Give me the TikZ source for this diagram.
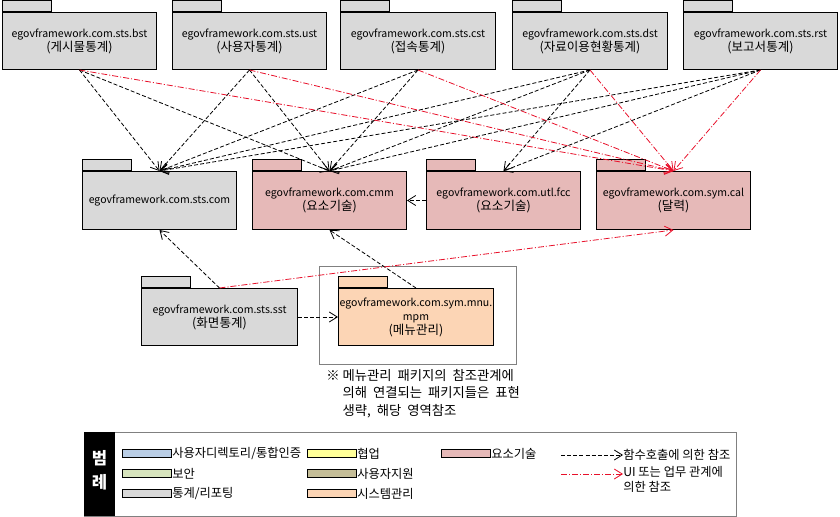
\documentclass[tikz,border=0pt]{standalone}
\usepackage{fontspec}
\setmainfont{Noto Sans CJK KR}
\usetikzlibrary{arrows.meta}
\definecolor{pkggray}{HTML}{D9D9D9}
\definecolor{pkgpink}{HTML}{E6B9B8}
\definecolor{pkgpeach}{HTML}{FCD5B5}
\definecolor{pkgblue}{HTML}{B9CDE5}
\definecolor{pkggreen}{HTML}{D7E4BD}
\definecolor{pkgyellow}{HTML}{FFFF99}
\definecolor{pkgtan}{HTML}{C4BD97}
\definecolor{uired}{HTML}{E8102A}
\definecolor{framegray}{HTML}{808080}
\newcommand{\kor}[1]{{\fontsize{9.4}{10.5}\selectfont #1}}
\tikzset{
  pkgbody/.style={draw=black, line width=0.75pt, inner sep=0pt, align=center,
    font=\fontsize{7.9}{10.5}\selectfont, anchor=north west},
  pkgtab/.style={draw=black, line width=0.75pt, inner sep=0pt, anchor=south west,
    minimum width=49*0.75pt, minimum height=11*0.75pt},
  dep/.style={draw=black, line width=0.6pt, dash pattern=on 3pt off 1.6pt,
    -{Straight Barb[length=6pt,width=7.5pt]}},
  uidep/.style={draw=uired, line width=0.6pt,
    dash pattern=on 4.5pt off 1.5pt on 0.8pt off 1.5pt,
    -{Straight Barb[length=6pt,width=7.5pt]}},
  swatch/.style={draw=black, line width=0.75pt, inner sep=0pt, anchor=north west,
    minimum width=49*0.75pt, minimum height=8*0.75pt},
  legtext/.style={anchor=west, inner sep=0pt, font=\fontsize{9.2}{11.2}\selectfont},
}
\newcommand{\pkgnode}[7]{%
  \node[pkgtab, fill=#6] (#1-tab) at (#2,#3) {};
  \node[pkgbody, fill=#6, minimum width=#4*0.75pt, minimum height=#5*0.75pt] (#1) at (#2,#3) {#7};}
\begin{document}
\begin{tikzpicture}[x=0.75pt,y=-0.75pt]
\useasboundingbox (0,0) rectangle (840,517);
\fill[white] (0,0) rectangle (840,517);
% top row
\pkgnode{bst}{2}{12}{154}{57}{pkggray}{egovframework.com.sts.bst\\\kor{(게시물통계)}}
\pkgnode{ust}{172}{12}{154}{57}{pkggray}{egovframework.com.sts.ust\\\kor{(사용자통계)}}
\pkgnode{cst}{340}{12}{155}{57}{pkggray}{egovframework.com.sts.cst\\\kor{(접속통계)}}
\pkgnode{dst}{512}{12}{155}{57}{pkggray}{egovframework.com.sts.dst\\\kor{(자료이용현황통계)}}
\pkgnode{rst}{683}{12}{154}{57}{pkggray}{egovframework.com.sts.rst\\\kor{(보고서통계)}}
% middle row
\pkgnode{stscom}{82}{171}{154}{58}{pkggray}{egovframework.com.sts.com}
\pkgnode{cmm}{252}{171}{154}{58}{pkgpink}{egovframework.com.cmm\\\kor{(요소기술)}}
\pkgnode{utl}{426}{171}{154}{58}{pkgpink}{egovframework.com.utl.fcc\\\kor{(요소기술)}}
\pkgnode{cal}{596}{171}{154}{58}{pkgpink}{egovframework.com.sym.cal\\\kor{(달력)}}
% bottom row
\draw[framegray, line width=0.75pt] (319,266) rectangle (516,364);
\pkgnode{sst}{141}{288}{156}{57}{pkggray}{egovframework.com.sts.sst\\\kor{(화면통계)}}
\pkgnode{mpm}{338}{288}{155}{57}{pkgpeach}{egovframework.com.sym.mnu.\\mpm\\\kor{(메뉴관리)}}
\node[anchor=north west, align=left, inner sep=0pt, font=\fontsize{10}{13.2}\selectfont] (note) at (326,369)
  {※\ 메뉴관리\ \ 패키지의\ \ 참조관계에\\\hphantom{※\ }의해\ \ 연결되는\ \ 패키지들은\ \ 표현\\\hphantom{※\ }생략,\ \ 해당\ \ 영역참조};
% function-call references
\foreach \s in {bst,ust,cst,dst,rst}{
  \draw[dep] (\s.south) -- (stscom.north);
  \draw[dep] (\s.south) -- (cmm.north);
}
\draw[dep] (dst.south) -- (utl.north);
\draw[dep] (rst.south) -- (utl.north);
\draw[dep] (utl.west) -- (cmm.east);
\draw[dep] (sst.north) -- (stscom.south);
\draw[dep] (mpm.north) -- (cmm.south);
\draw[dep] (sst.east) -- (mpm.west);
% UI references
\foreach \s in {bst,ust,cst,dst,rst}{
  \draw[uidep] (\s.south) -- (cal.north);
}
\draw[uidep] (sst.north) -- (cal.south);
% legend
\draw[framegray, line width=0.75pt] (84,432) rectangle (736,516);
\fill[black] (84,432) rectangle (115,516);
\node[white, font=\fontsize{12.5}{14}\bfseries] (legA) at (99.5,458) {범};
\node[white, font=\fontsize{12.5}{14}\bfseries] (legB) at (99.5,482) {례};
\node[swatch, fill=pkgblue] (sw1) at (122,449) {};
\node[legtext] (lt1) at (sw1.east) {사용자디렉토리/통합인증};
\node[swatch, fill=pkggreen] (sw2) at (122,469) {};
\node[legtext] (lt2) at (sw2.east) {보안};
\node[swatch, fill=pkggray] (sw3) at (122,489) {};
\node[legtext] (lt3) at (sw3.east) {통계/리포팅};
\node[swatch, fill=pkgyellow] (sw4) at (307,449) {};
\node[legtext] (lt4) at (sw4.east) {협업};
\node[swatch, fill=pkgtan] (sw5) at (307,469) {};
\node[legtext] (lt5) at (sw5.east) {사용자지원};
\node[swatch, fill=pkgpeach] (sw6) at (307,489) {};
\node[legtext] (lt6) at (sw6.east) {시스템관리};
\node[swatch, fill=pkgpink] (sw7) at (441,449) {};
\node[legtext] (lt7) at (sw7.east) {요소기술};
\coordinate (la1) at (561,455);
\node[legtext] (lt8) at (623,455) {함수호출에 의한 참조};
\draw[dep] (la1) -- (lt8.west);
\coordinate (la2) at (561,474);
\coordinate (lb2) at (623,474);
\node[legtext, anchor=north west, align=left] (lt9) at (623,466) {UI 또는 업무 관계에\\의한 참조};
\draw[uidep] (la2) -- (lb2);
\end{tikzpicture}
\end{document}
